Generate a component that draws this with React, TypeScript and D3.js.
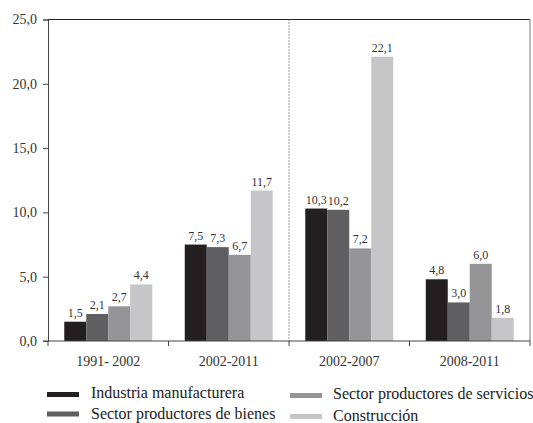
import { useEffect, useRef } from "react";
import * as d3 from "d3";

const CATEGORIES = ["1991- 2002", "2002-2011", "2002-2007", "2008-2011"];

const SERIES = [
  { key: "ind", label: "Industria manufacturera", color: "#231f20" },
  { key: "bie", label: "Sector productores de bienes", color: "#5f5f61" },
  { key: "ser", label: "Sector productores de servicios", color: "#959598" },
  { key: "con", label: "Construcción", color: "#c6c6c8" },
];

const IND_VALUES = [1.5, 7.5, 10.3, 4.8];
const BIE_VALUES = [2.1, 7.3, 10.2, 3.0];
const SER_VALUES = [2.7, 6.7, 7.2, 6.0];
const CON_VALUES = [4.4, 11.7, 22.1, 1.8];

const Y_TICKS = [0, 5, 10, 15, 20, 25];

const VALUES: Record<string, number[]> = {
  ind: IND_VALUES,
  bie: BIE_VALUES,
  ser: SER_VALUES,
  con: CON_VALUES,
};

const fmt = (v: number) => v.toFixed(1).replace(".", ",");

export default function App() {
  const svgRef = useRef<SVGSVGElement>(null);

  useEffect(() => {
    if (!svgRef.current) return;
    const W = 533;
    const H = 423;
    const margin = { top: 19.5, right: 3, bottom: 82, left: 48 };
    const font = "'Liberation Serif', 'DejaVu Serif', serif";

    const svg = d3.select(svgRef.current);
    svg.selectAll("*").remove();
    svg.attr("width", W).attr("height", H).attr("viewBox", `0 0 ${W} ${H}`);

    const x0 = d3
      .scaleBand()
      .domain(CATEGORIES)
      .range([margin.left, W - margin.right]);
    const bw = x0.bandwidth();
    const x1 = d3
      .scaleBand()
      .domain(SERIES.map((s) => s.key))
      .range([bw * 0.135, bw * 0.865]);

    const y = d3
      .scaleLinear()
      .domain([0, 25])
      .range([H - margin.bottom, margin.top]);

    // frame: top and right
    svg
      .append("line")
      .attr("x1", margin.left)
      .attr("x2", W - margin.right)
      .attr("y1", y(25))
      .attr("y2", y(25))
      .attr("stroke", "#222")
      .attr("stroke-width", 1);
    svg
      .append("line")
      .attr("x1", W - margin.right)
      .attr("x2", W - margin.right)
      .attr("y1", y(25))
      .attr("y2", y(0))
      .attr("stroke", "#777")
      .attr("stroke-width", 1);

    // y axis
    const yAxis = svg
      .append("g")
      .attr("transform", `translate(${margin.left},0)`)
      .call(
        d3
          .axisLeft(y)
          .tickValues(Y_TICKS)
          .tickFormat((d) => fmt(d as number))
          .tickSize(5)
          .tickPadding(6)
      );
    yAxis.select(".domain").attr("stroke", "#444");
    yAxis.selectAll(".tick line").attr("stroke", "#444");
    yAxis
      .selectAll(".tick text")
      .attr("fill", "#333")
      .attr("font-size", 14)
      .attr("font-family", font);

    // separator dotted line
    const sepX = x0(CATEGORIES[2])!;
    svg
      .append("line")
      .attr("x1", sepX)
      .attr("x2", sepX)
      .attr("y1", y(25))
      .attr("y2", y(0))
      .attr("stroke", "#333")
      .attr("stroke-width", 1)
      .attr("stroke-dasharray", "1 2");

    // bars
    CATEGORIES.forEach((cat, ci) => {
      SERIES.forEach((s) => {
        const v = VALUES[s.key][ci];
        const bx = x0(cat)! + x1(s.key)!;
        svg
          .append("rect")
          .attr("x", bx)
          .attr("y", y(v))
          .attr("width", x1.bandwidth())
          .attr("height", y(0) - y(v))
          .attr("fill", s.color);
        svg
          .append("text")
          .attr("x", bx + x1.bandwidth() / 2)
          .attr("y", y(v) - 5)
          .attr("text-anchor", "middle")
          .attr("fill", "#333")
          .attr("font-size", 12)
          .attr("font-family", font)
          .text(fmt(v));
      });
    });

    // x axis
    const xBase = y(0);
    svg
      .append("line")
      .attr("x1", margin.left - 5)
      .attr("x2", W - margin.right)
      .attr("y1", xBase)
      .attr("y2", xBase)
      .attr("stroke", "#444");
    const bounds = CATEGORIES.map((c) => x0(c)!).concat([W - margin.right]);
    bounds.forEach((bx) => {
      svg
        .append("line")
        .attr("x1", bx)
        .attr("x2", bx)
        .attr("y1", xBase)
        .attr("y2", xBase + 5)
        .attr("stroke", "#444");
    });
    CATEGORIES.forEach((c) => {
      svg
        .append("text")
        .attr("x", x0(c)! + bw / 2)
        .attr("y", xBase + 25)
        .attr("text-anchor", "middle")
        .attr("fill", "#333")
        .attr("font-size", 14)
        .attr("font-family", font)
        .text(c);
    });

    // legend
    const legendPos = [
      { sx: 47, sy: 392, tx: 91, ty: 398 },
      { sx: 47, sy: 411.5, tx: 91, ty: 418.5 },
      { sx: 290, sy: 393, tx: 333, ty: 398.5 },
      { sx: 290, sy: 414, tx: 333, ty: 421 },
    ];
    SERIES.forEach((s, i) => {
      const p = legendPos[i];
      svg
        .append("rect")
        .attr("x", p.sx)
        .attr("y", p.sy)
        .attr("width", 32)
        .attr("height", 5)
        .attr("fill", s.color);
      svg
        .append("text")
        .attr("x", p.tx)
        .attr("y", p.ty)
        .attr("fill", "#222")
        .attr("font-size", 16)
        .attr("font-family", font)
        .text(s.label);
    });
  }, []);

  return (
    <div style={{ position: "absolute", left: 0, top: 0, background: "#fff" }}>
      <svg ref={svgRef} style={{ display: "block" }} />
    </div>
  );
}
